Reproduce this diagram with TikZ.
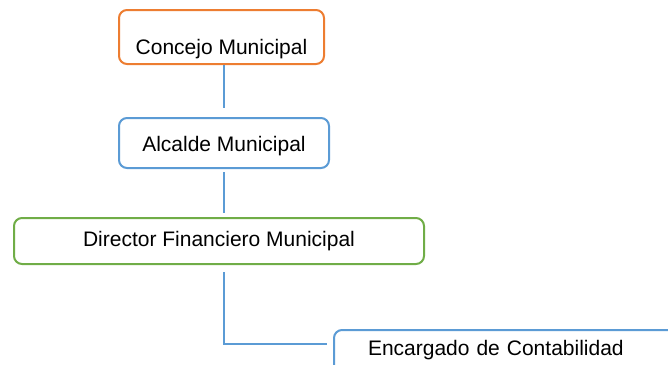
\documentclass[tikz,border=0pt]{standalone}
\usepackage{fontspec}
\setmainfont{Liberation Sans}
\usepackage{tikz}
\usetikzlibrary{positioning}
\definecolor{orangeline}{RGB}{237,125,49}
\definecolor{blueline}{RGB}{91,155,213}
\definecolor{greenline}{RGB}{112,173,71}
\tikzset{
x=1pt, y=-1pt, % one unit is one pixel of the page, y runs downwards
orgbox/.style={rounded corners=8pt, line width=2pt, fill=white, inner sep=0pt, anchor=north west, font=\fontsize{21}{25}\selectfont}, % sets the properties for each box of the chart
link/.style={draw=blueline, line width=1.1pt}, % the thin lines between the boxes
}

\begin{document}
\begin{tikzpicture}
    \useasboundingbox (0,0) rectangle (668,364);
    \clip (0,0) rectangle (668,364);
    \node[orgbox, draw=orangeline, minimum width=205pt, text height=44pt, text depth=10pt] (concejo) at (118,9) {Concejo Municipal};
    \node[orgbox, draw=blueline, minimum width=210pt, text height=33pt, text depth=17pt] (alcalde) at (118,117) {Alcalde Municipal};
    \node[orgbox, draw=greenline, minimum width=410pt, text height=28pt, text depth=18pt] (director) at (13,217) {Director Financiero Municipal};
    \node[orgbox, draw=blueline, inner xsep=34pt, text width=300pt, align=left, text height=25pt, text depth=30pt] (encargado) at (333,329) {Encargado de Contabilidad};
    \draw[link, shorten >=9pt] (concejo.south -| alcalde.north) -- (alcalde.north);
    \draw[link, shorten <=3pt, shorten >=4pt] (alcalde.south) -- (alcalde.south |- director.north);
    \draw[link, shorten <=7pt, shorten >=6pt] (director.south -| alcalde.south) |- ([yshift=-15pt]encargado.north west);
\end{tikzpicture}
\end{document}
